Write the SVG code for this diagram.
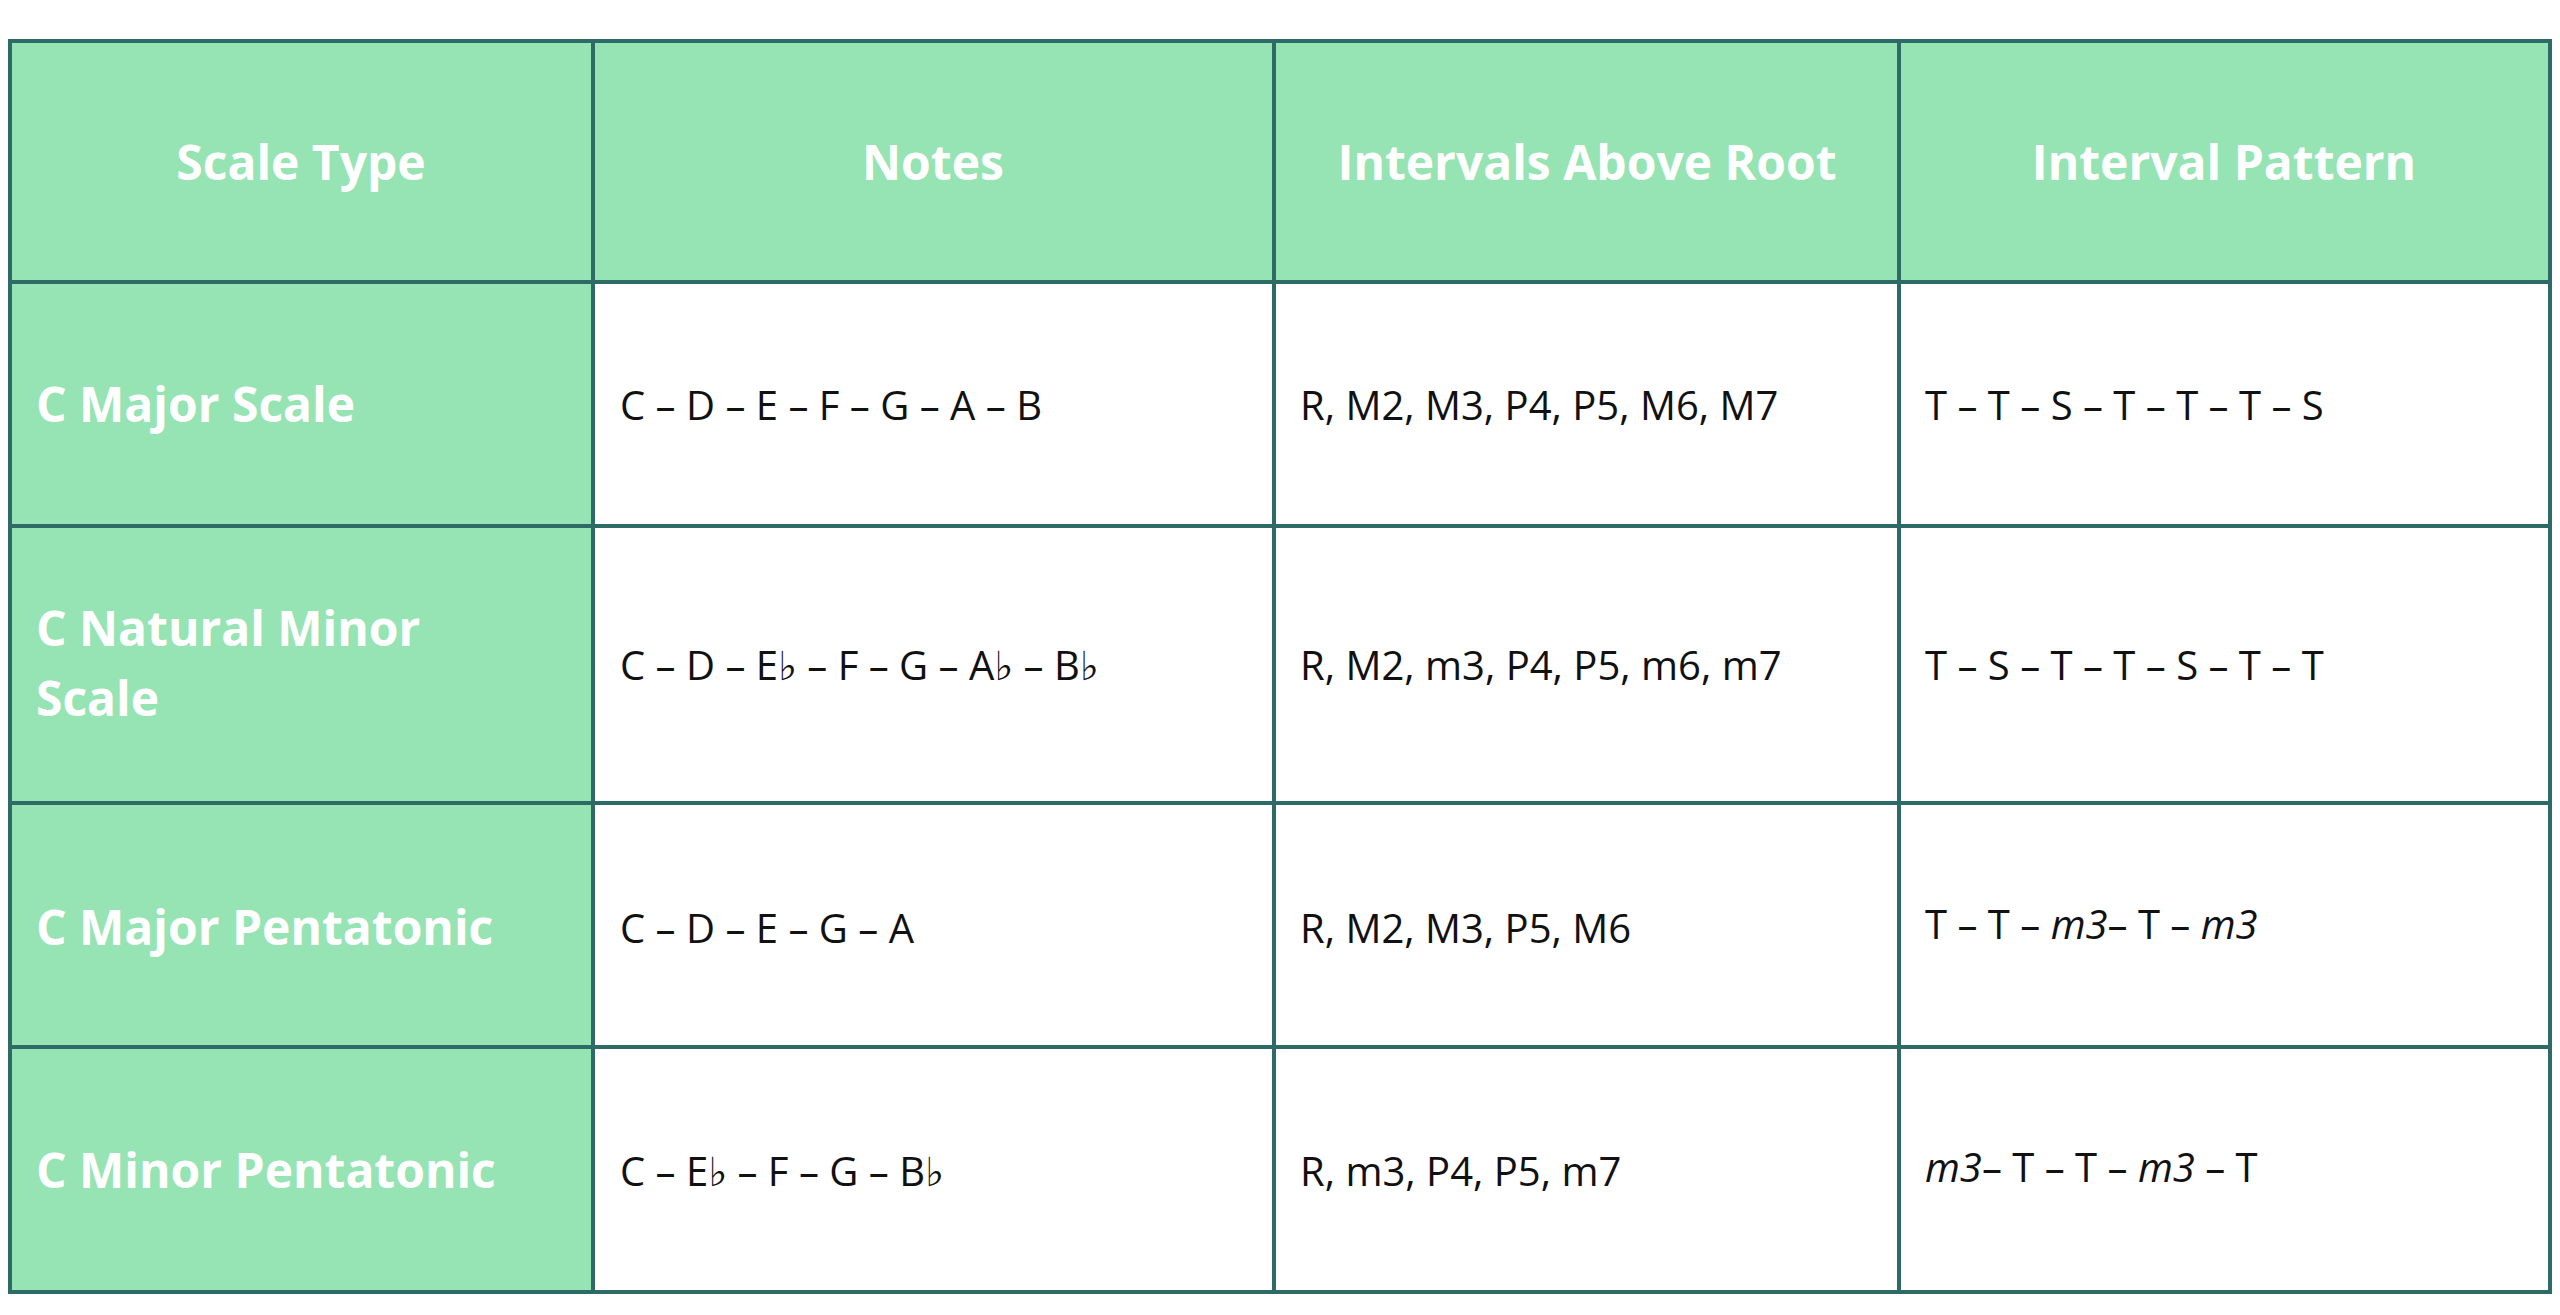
<svg xmlns="http://www.w3.org/2000/svg" width="2560" height="1315" viewBox="0 0 2560 1315">
<style>
.g{fill:#96e4b3}
.ln{stroke:#2f6b66;stroke-width:4;fill:none}
.h{font-family:"Open Sans","Liberation Sans",sans-serif;font-weight:700;font-size:48px;fill:#fff}
.b{font-family:"Open Sans","Liberation Sans",sans-serif;font-size:40px;fill:#111}
.f{font-family:"DejaVu Sans",sans-serif}
</style>
<rect width="2560" height="1315" fill="#fff"/>
<g id="fills">
<rect class="g" x="10" y="41" width="2540" height="241"/>
<rect class="g" x="10" y="282" width="583" height="1010"/>
</g>
<g id="connectors">
<rect class="ln" x="10" y="41" width="2540" height="1251"/>
<path class="ln" d="M593 41V1292M1274 41V1292M1899 41V1292M10 282H2550M10 526H2550M10 803H2550M10 1047H2550"/>
</g>
<g id="header">
<text class="h" x="301" y="180" text-anchor="middle">Scale Type</text>
<text class="h" x="933" y="180" text-anchor="middle">Notes</text>
<text class="h" x="1587" y="180" text-anchor="middle">Intervals Above Root</text>
<text class="h" x="2224" y="180" text-anchor="middle">Interval Pattern</text>
</g>
<g id="row1">
<text class="h" x="36" y="422">C Major Scale</text>
<text class="b" x="620" y="420">C – D – E – F – G – A – B</text>
<text class="b" x="1300" y="420">R, M2, M3, P4, P5, M6, M7</text>
<text class="b" x="1925" y="420">T – T – S – T – T – T – S</text>
</g>
<g id="row2">
<text class="h" x="36" y="646">C Natural Minor</text>
<text class="h" x="36" y="716">Scale</text>
<text class="b" x="620" y="680">C – D – E<tspan class="f">♭</tspan> – F – G – A<tspan class="f">♭</tspan> – B<tspan class="f">♭</tspan></text>
<text class="b" x="1300" y="680">R, M2, m3, P4, P5, m6, m7</text>
<text class="b" x="1925" y="680">T – S – T – T – S – T – T</text>
</g>
<g id="row3">
<text class="h" x="36" y="945">C Major Pentatonic</text>
<text class="b" x="620" y="943">C – D – E – G – A</text>
<text class="b" x="1300" y="943">R, M2, M3, P5, M6</text>
<text class="b" x="1925" y="939">T – T – <tspan font-style="italic">m3</tspan>– T – <tspan font-style="italic">m3</tspan></text>
</g>
<g id="row4">
<text class="h" x="36" y="1188">C Minor Pentatonic</text>
<text class="b" x="620" y="1186">C – E<tspan class="f">♭</tspan> – F – G – B<tspan class="f">♭</tspan></text>
<text class="b" x="1300" y="1186">R, m3, P4, P5, m7</text>
<text class="b" x="1925" y="1182"><tspan font-style="italic">m3</tspan>– T – T – <tspan font-style="italic">m3</tspan> – T</text>
</g>
</svg>
